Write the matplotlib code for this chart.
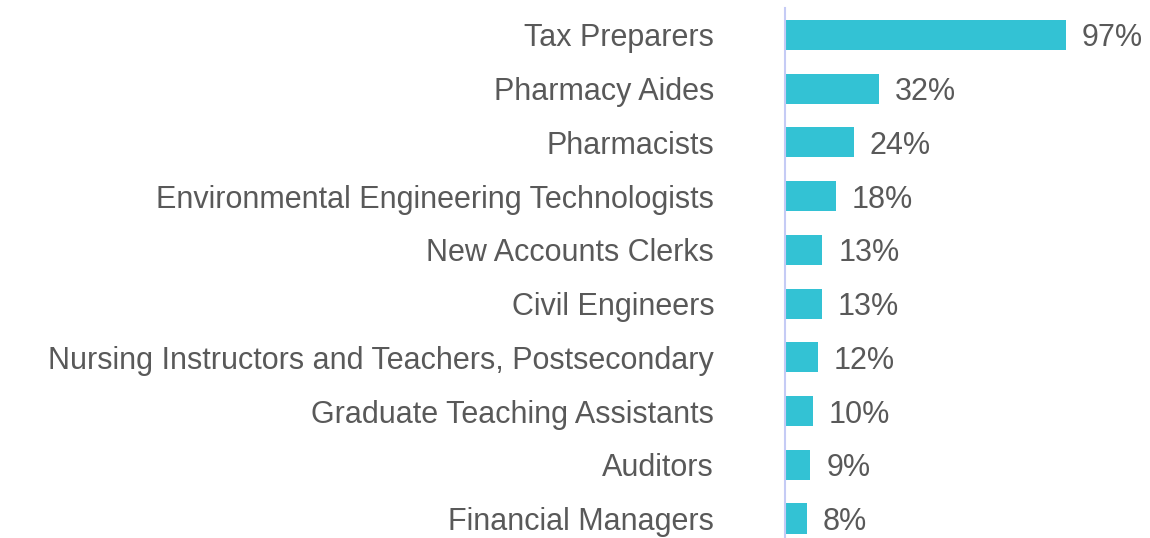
import matplotlib.pyplot as plt

occupations = [
    "Tax Preparers",
    "Pharmacy Aides",
    "Pharmacists",
    "Environmental Engineering Technologists",
    "New Accounts Clerks",
    "Civil Engineers",
    "Nursing Instructors and Teachers, Postsecondary",
    "Graduate Teaching Assistants",
    "Auditors",
    "Financial Managers",
]
shares = [97.0, 32.4, 23.8, 17.5, 12.9, 12.6, 11.3, 9.6, 8.7, 7.5]
share_labels = ["97%", "32%", "24%", "18%", "13%", "13%", "12%", "10%", "9%", "8%"]

plt.rcParams["font.family"] = ["Liberation Sans", "DejaVu Sans"]
text_color = "#595959"
fsize = 22

fig = plt.figure(figsize=(11.5, 5.38), dpi=100)
# axes spans from the axis line (x=785px) to the right edge, rows from y=8px down
ax = fig.add_axes([785 / 1150, -7.4 / 538, 365 / 1150, 537.3 / 538])

y = list(range(len(occupations)))
ax.barh(y, shares, height=0.56, color="#33c2d4", left=0)

for yi, v, lab in zip(y, shares, share_labels):
    ax.annotate(lab, (v, yi), xytext=(16, 0), textcoords="offset pixels",
                va="center_baseline", ha="left", fontsize=fsize, color=text_color)

ax.set_xlim(0, 365 / 2.897)
ax.set_ylim(len(occupations) - 0.5, -0.5)
ax.set_yticks(y)
ax.set_yticklabels(occupations, fontsize=fsize, color=text_color)
ax.tick_params(axis="y", length=0, pad=51)
ax.set_xticks([])

for side in ["top", "right", "bottom"]:
    ax.spines[side].set_visible(False)
ax.spines["left"].set_color("#c5cbf5")
ax.spines["left"].set_linewidth(1.5)

fig.savefig("out.png", dpi=100)
